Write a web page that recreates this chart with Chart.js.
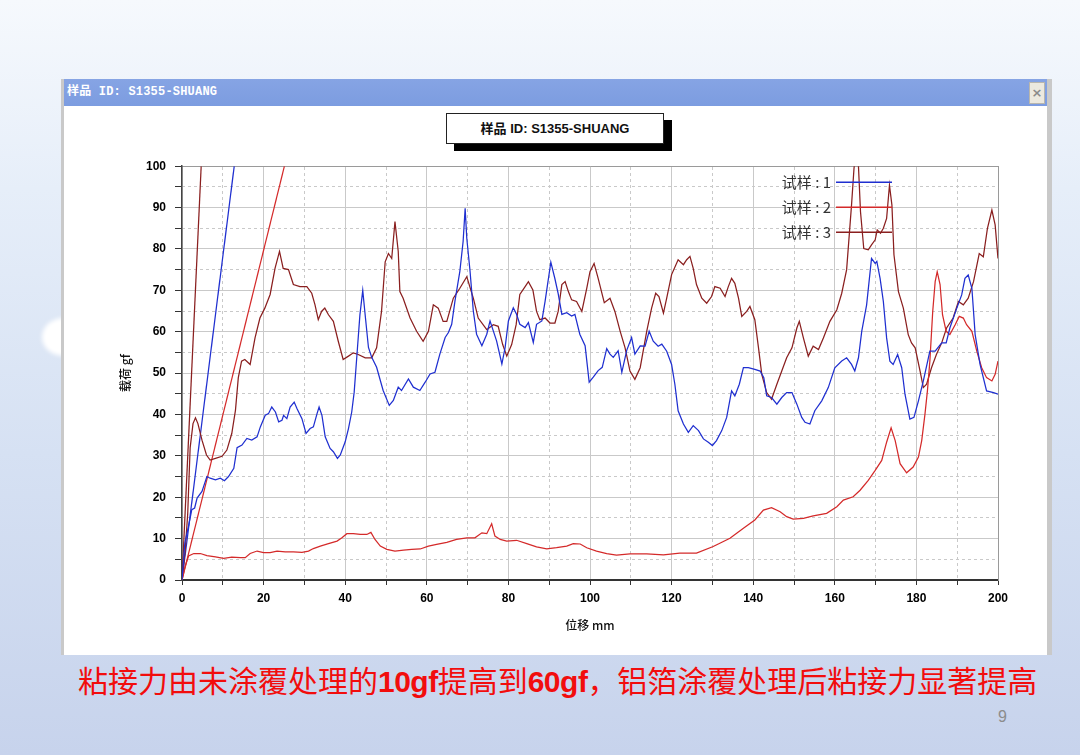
<!DOCTYPE html>
<html>
<head>
<meta charset="utf-8">
<title>样品 ID: S1355-SHUANG</title>
<script src="https://cdn.jsdelivr.net/npm/chart.js@4.4.0/dist/chart.umd.min.js"></script>
<style>
  html, body { margin: 0; padding: 0; }
  body {
    width: 1080px; height: 755px; overflow: hidden; position: relative;
    background: linear-gradient(to bottom, #f6f9fd 0%, #e6eef9 25%, #d6e1f3 60%, #c7d3ec 100%);
    font-family: "Noto Sans CJK SC", sans-serif;
  }
  .blob { position: absolute; left: 42px; top: 318px; width: 44px; height: 38px; border-radius: 50%; background: #fff; filter: blur(2px); }
  #win {
    position: absolute; left: 61px; top: 79px; width: 991px; height: 576px;
    background: #fff; box-sizing: border-box;
    border-left: 3px solid #c9c9c9; border-right: 5px solid #c9c9c9;
  }
  #bar {
    position: absolute; left: 0; top: 0; right: 0; height: 27px;
    background: linear-gradient(to bottom, #86a4e4, #7c9ce0);
    color: #fff; font: bold 12px "Liberation Mono", "Noto Sans CJK SC", monospace;
    line-height: 27px; padding-left: 3px; letter-spacing: 0.2px;
  }
  #close {
    position: absolute; right: 2px; top: 3px; width: 14px; height: 20px;
    background: #ece9df; border: 1px solid #b9b6ad; color: #8a8a8a;
    font: bold 13px "DejaVu Sans", sans-serif; line-height: 19px; text-align: center;
  }
  #boxShadow { position: absolute; left: 454px; top: 120px; width: 218px; height: 31px; background: #000; }
  #box {
    position: absolute; left: 446px; top: 113px; width: 218px; height: 31px; box-sizing: border-box;
    background: #fff; border: 1px solid #222; text-align: center;
    font: bold 13px "Liberation Sans", "Noto Sans CJK SC", sans-serif; line-height: 29px; color: #111;
  }
  #wrap { position: absolute; left: 100px; top: 150px; width: 920px; height: 490px; }
  #note {
    position: absolute; left: 78px; top: 659px; white-space: nowrap;
    color: #f20d0d; font-size: 30px; line-height: 40px; font-family: "Noto Sans CJK SC", sans-serif;
  }
  #note b { font-family: "Liberation Sans", sans-serif; font-weight: bold; letter-spacing: -0.5px; }
  #page { position: absolute; left: 998px; top: 708px; color: #8c8c8c; font: 16px "Liberation Sans", sans-serif; }
</style>
</head>
<body>
<div class="blob"></div>
<div id="win">
  <div id="bar">样品 ID: S1355-SHUANG<div id="close">×</div></div>
</div>
<div id="boxShadow"></div>
<div id="box">样品 ID: S1355-SHUANG</div>
<div id="wrap"><canvas id="myChart"></canvas></div>
<div id="note">粘接力由未涂覆处理的<b>10gf</b>提高到<b>60gf</b>，铝箔涂覆处理后粘接力显著提高</div>
<div id="page">9</div>

<script>
// 试样 1 (蓝)
const s1X = [0, 0.7, 1.6, 2.4, 3.1, 3.7, 4.9, 6.1, 6.9, 8.2, 9.4, 10.4, 11.4, 12.7, 13.5, 14.7, 15.9, 17.1, 18.4, 19.2,
  20.4, 21.2, 22, 22.9, 23.7, 24.5, 24.9, 25.7, 26.5, 27.5, 28.2, 29.4, 30.4, 31.4, 32.2, 33.1, 33.6, 34.3, 35.1, 36.3,
  37.1, 38.1, 38.8, 40, 40.8, 41.6, 42.2, 43, 43.6, 44.3, 45, 45.7, 46.5, 47.7, 49.3, 50.8, 51.8, 53, 53.8, 55.5,
  56.7, 58.3, 59.6, 60.8, 62, 63.2, 64.5, 65.3, 66.1, 66.9, 68.1, 68.9, 69.4, 69.8, 70.6, 71.4, 72.2, 73.5, 74.7, 75.5,
  76.3, 77.1, 78.4, 79.2, 80, 81.2, 82, 82.8, 84.1, 84.9, 86.1, 86.9, 88.2, 89, 90.4, 91.4, 92.2, 93.1, 94.3, 95.5,
  96.3, 97.5, 98.8, 99.8, 100.8, 102, 103, 104.1, 104.9, 105.7, 106.9, 107.8, 109, 110.2, 111, 112.3, 113.5, 114.5, 115.5, 116.7,
  117.6, 118.8, 120, 120.8, 121.6, 122.9, 124.1, 125.3, 126.6, 127.8, 129, 130, 131, 132.3, 133.5, 134.7, 135.5, 136.6, 137.6, 138.8,
  140.4, 141.7, 142.6, 143.3, 144.5, 145.8, 147, 148.2, 149.5, 150.7, 151.9, 152.7, 153.9, 155.1, 156.8, 158.4, 160, 161.7, 162.9, 164.1,
  164.9, 165.8, 166.6, 167.8, 169, 169.9, 170.3, 171.1, 171.9, 172.7, 173.5, 174.3, 175.4, 176.4, 177.2, 178.4, 179.4, 180.5, 181.7, 183.3,
  184.6, 186.2, 187.3, 188.2, 189.9, 191.1, 191.9, 192.7, 193.6, 194.4, 195.6, 197.2, 198.9, 200];
const s1Y = [0, 9, 13, 17, 17.4, 19.8, 21.4, 25, 24.6, 24.2, 24.6, 24, 25, 27, 32, 32.6, 34.2, 33.8, 34.6, 37,
  39.8, 40.2, 41.8, 40.6, 38.2, 38.6, 39.8, 39, 41.8, 43, 41.4, 39, 35.4, 36.6, 37, 40.2, 41.8, 39.8, 34.6, 31.8,
  31, 29.4, 30.2, 33.4, 36.6, 40.6, 45.4, 56, 64, 70, 63, 56.2, 53.8, 51.4, 45.8, 42.2, 43.4, 46.6, 45.8, 48.6,
  46.6, 45.8, 47.8, 49.8, 50.2, 54.6, 58.6, 59.8, 61.8, 67.4, 74.6, 81.8, 89.8, 82.6, 74.6, 65, 59.4, 56.6, 59.4, 62.6,
  60.2, 57.8, 52.2, 56.2, 62.6, 65.8, 64.2, 61.8, 61, 62.2, 57.4, 61.8, 62.6, 67.4, 76.8, 72.8, 69.2, 64.2, 64.6, 63.8,
  64.2, 59.4, 56.6, 47.8, 49, 50.6, 51.4, 55.9, 54.6, 53.8, 55.4, 50.2, 55.5, 58.6, 54.6, 56.6, 56.5, 60.1, 57.7, 56.5,
  57, 55.3, 52.1, 47.3, 40.9, 37.7, 35.7, 37.3, 36.1, 34.1, 33.3, 32.5, 33.7, 36.1, 39.3, 45.7, 44.5, 47.3, 51.3, 51.3,
  50.9, 50.5, 48.9, 44.5, 44.1, 42.5, 44.1, 45.3, 45.3, 42.5, 39.3, 38.1, 37.7, 40.9, 43.3, 46.5, 51.3, 52.9, 53.7, 52.1,
  50.5, 53.7, 60.1, 66.5, 77.7, 76.5, 77, 72.9, 67.3, 58.5, 52.9, 52.1, 54.5, 51.3, 44.9, 38.9, 39.3, 43.3, 48.1, 55.3,
  55.3, 57.3, 57.3, 60.9, 65.7, 68.9, 72.9, 73.7, 70.5, 59.3, 52.1, 45.7, 45.3, 44.9];

// 试样 2 (红)
const s2X = [0, 0.8, 1.6, 2.9, 4.5, 6.1, 8.2, 10.2, 12.2, 14.3, 15.5, 16.7, 18.4, 20, 21.6, 23.3, 25.3, 27.3, 29.4, 31,
  32.2, 33.9, 35.9, 38, 39.2, 40.4, 42, 43.7, 45.3, 46.3, 47.3, 48.6, 50.2, 52.2, 54.3, 56.3, 58.4, 60.4, 62.4, 64.9,
  67.3, 69.8, 71.8, 73.5, 74.7, 75.9, 76.7, 78, 79.6, 82, 84.5, 86.9, 89.4, 91.8, 94.3, 95.9, 97.6, 99.2, 101.6, 104.1,
  106.5, 109.8, 113.9, 118, 122, 126.1, 130.2, 134.3, 137.6, 140.4, 142.5, 144.5, 146.6, 148.2, 149.8, 152.3, 154.7, 158, 160.5, 162.1,
  164.5, 166.2, 168.2, 169.9, 171.5, 172.7, 173.8, 174.8, 176, 177.6, 179.2, 180.5, 181.3, 182.1, 182.7, 183.3, 184, 184.6, 185.1, 185.8,
  186.4, 187.3, 188.2, 189.5, 190.5, 191.5, 192.3, 193.6, 194.8, 196, 197.2, 198.5, 199.3, 200];
const s2Y = [0, 3.4, 5.8, 6.4, 6.4, 5.9, 5.6, 5.2, 5.5, 5.4, 5.4, 6.4, 7, 6.6, 6.6, 7, 6.8, 6.8, 6.7, 7,
  7.6, 8.2, 8.8, 9.4, 10.2, 11.2, 11.2, 11, 11, 11.5, 9.8, 8.2, 7.4, 7, 7.2, 7.4, 7.5, 8.2, 8.6, 9.1,
  9.8, 10.2, 10.2, 11.4, 11.2, 13.6, 10.6, 9.8, 9.4, 9.6, 8.8, 8, 7.5, 7.8, 8.2, 8.8, 8.7, 7.8, 7, 6.4,
  6, 6.3, 6.3, 6.1, 6.5, 6.5, 8.1, 10.1, 12.5, 14.5, 16.9, 17.5, 16.5, 15.3, 14.7, 14.9, 15.5, 16.1, 17.7, 19.3,
  20.1, 21.7, 24.1, 26.5, 28.9, 33.3, 36.8, 33.7, 28.1, 25.9, 27.3, 29.7, 33.7, 40.1, 45.7, 52.9, 64.9, 72.1, 74.5, 71.4,
  64.1, 60.1, 59.3, 61.7, 63.7, 63.3, 61.7, 60.1, 55.3, 51.3, 48.9, 48.1, 49.7, 52.9];

// 试样 3 (棕)
const s3X = [0, 0.8, 1.4, 2, 2.7, 3.3, 3.9, 4.9, 6, 6.9, 8.2, 9.8, 11, 12.2, 13.1, 13.8, 14.6, 15.4, 16.7, 17.9,
  19.1, 20.3, 21.6, 22.8, 23.9, 24.8, 26.1, 27.3, 28.9, 30.6, 31.8, 32.6, 33.4, 34.2, 35, 35.9, 37.1, 38.3, 39.5, 40.8,
  42, 43.2, 44.9, 46.5, 47.7, 48.9, 49.8, 50.6, 51.4, 52.2, 53, 53.4, 54.2, 55.9, 57.5, 59.1, 60.4, 61.6, 62.8, 64,
  64.9, 66.5, 68.1, 69.8, 71.4, 72.6, 74.7, 76.3, 77.5, 78.6, 79.6, 80.8, 81.9, 82.8, 84.1, 84.9, 86, 86.9, 87.7, 89,
  90.2, 91.4, 92.2, 93.1, 93.9, 94.7, 95.5, 96.7, 98, 99.2, 100, 101, 102, 103.5, 104.9, 106.1, 107.4, 108.6, 109.8, 111,
  112.3, 113.9, 115.1, 116.1, 116.9, 118, 118.8, 120, 121.6, 122.9, 123.7, 124.5, 125.3, 126.1, 127.4, 128.6, 129.8, 130.6, 131.9, 133.1,
  133.9, 134.7, 135.5, 136.4, 137.2, 138.4, 139.2, 140.4, 141.3, 142.1, 143.3, 144.5, 145.8, 147, 148.2, 149.5, 150.7, 151.3, 152.3, 153.5,
  154.7, 156, 157.2, 158.8, 160.5, 161.7, 162.9, 164.1, 164.7, 165.2, 165.8, 166.3, 167.1, 168.2, 169, 169.9, 170.4, 171.2, 171.9, 172.7,
  173.4, 174, 174.5, 175.6, 176.8, 178, 178.8, 179.7, 180.9, 181.7, 182.5, 183.7, 184.9, 186.2, 187.4, 189, 190.3, 191.5, 192.7, 194,
  195.4, 196.4, 197.4, 198.5, 199.3, 200];
const s3Y = [0, 7.4, 16, 32, 37.8, 39.2, 37.8, 33.8, 30.2, 29, 29.4, 29.9, 31.4, 35.4, 41, 48.9, 52.9, 53.3, 52.1, 58.5,
  63.3, 65.7, 69, 75.3, 79.4, 75.3, 75, 71.4, 70.9, 70.9, 69.3, 66.5, 62.9, 64.9, 65.7, 64.1, 62.5, 57.7, 53.3, 54.1,
  54.9, 54.5, 53.7, 53.7, 56.1, 64.9, 76.9, 78.9, 77.7, 86.6, 79.4, 69.7, 68.1, 63.3, 60.1, 57.7, 60.1, 66.5, 65.7, 62.5,
  62.5, 68.1, 70.5, 73.3, 68.1, 63.3, 60.5, 61.7, 61.3, 56.9, 54.1, 56.9, 61.7, 69, 70.9, 72.1, 70.1, 64.9, 62.9, 63.3,
  62.1, 62.1, 64.9, 71.4, 72.1, 69.7, 67.7, 67.3, 64.9, 70.5, 74.5, 76.5, 72.9, 67, 68.1, 64.9, 60.1, 56.1, 50.5, 48.5,
  51.3, 60.1, 65.7, 69.3, 68.5, 64.5, 68.1, 73.8, 77.4, 76.2, 77.4, 78.2, 75.3, 71.4, 68.1, 66.9, 68.5, 70.9, 70.5, 68.5,
  70.9, 72.9, 71.7, 68.1, 63.7, 64.9, 66.1, 62.9, 56.1, 49.7, 45.3, 43.7, 47.3, 50.5, 53.7, 56.1, 60.9, 62.5, 58.5, 54.1,
  56.5, 55.7, 58.5, 62.5, 65.3, 69.3, 75, 90.6, 99.4, 104, 100, 89, 80.1, 79.8, 81, 82.2, 84.6, 83.8, 85, 87.4,
  95.4, 90.6, 78.6, 69.7, 65.7, 59.3, 57.3, 56.1, 50.5, 46.5, 47.3, 51.3, 54.5, 57.3, 60.9, 63.3, 67.3, 66.5, 68.1, 72.1,
  78.9, 78.1, 84.9, 89.4, 85.8, 77.7];

// 初始斜率线
const fit1X = [0, 12.8], fit1Y = [0, 100];
const fit2X = [0, 25.1], fit2Y = [0, 100];
const fit3X = [0, 4.7], fit3Y = [0, 100];

const labels = ['试样 : 1', '试样 : 2', '试样 : 3'];
const colors = ['#1f2fd0', '#d42a2a', '#8a1f1f'];

function pts(xs, ys) { return xs.map((x, i) => ({ x: x, y: ys[i] })); }

const ctx1 = document.getElementById('myChart').getContext('2d');

// 图内图例: 文字在左, 线段在右
const sampleLegend = {
  id: 'sampleLegend',
  afterDatasetsDraw(chart) {
    const c = chart.ctx, a = chart.chartArea;
    c.save();
    c.font = '15px "Noto Sans CJK SC", sans-serif';
    c.textAlign = 'right';
    c.textBaseline = 'middle';
    chart.data.datasets.filter(d => d.inLegend).forEach((d, i) => {
      const y = a.top + 16 + i * 25;
      c.fillStyle = '#333';
      c.fillText(d.label, a.right - 167, y);
      c.strokeStyle = d.borderColor;
      c.lineWidth = 1.6;
      c.beginPath();
      c.moveTo(a.right - 162, y);
      c.lineTo(a.right - 106, y);
      c.stroke();
    });
    c.restore();
  }
};

const tickFont = { family: '"Liberation Sans", Arial, sans-serif', size: 12, weight: 'bold' };
const titleFont = { family: '"Noto Sans CJK SC", sans-serif', size: 12, weight: 500 };

const lineDs = (label, data, color, inLegend) => ({
  label: label, data: data, borderColor: color, backgroundColor: color,
  borderWidth: 1.25, pointRadius: 0, tension: 0, inLegend: inLegend,
  xAxisID: 'x', yAxisID: 'y'
});

var graph = new Chart(ctx1, {
  type: 'line',
  data: {
    datasets: [
      lineDs(labels[0], pts(s1X, s1Y), colors[0], true),
      lineDs(labels[1], pts(s2X, s2Y), colors[1], true),
      lineDs(labels[2], pts(s3X, s3Y), colors[2], true),
      lineDs('fit1', pts(fit1X, fit1Y), colors[0], false),
      lineDs('fit2', pts(fit2X, fit2Y), colors[1], false),
      lineDs('fit3', pts(fit3X, fit3Y), colors[2], false)
    ]
  },
  options: {
    responsive: true,
    maintainAspectRatio: false,
    animation: false,
    layout: { padding: 0 },
    plugins: { legend: { display: false }, tooltip: { enabled: false } },
    scales: {
      x: {
        type: 'linear', position: 'bottom', min: 0, max: 200,
        ticks: {
          stepSize: 10, autoSkip: false, maxRotation: 0, padding: 6, color: '#000', font: tickFont,
          callback: v => (v % 20 === 0 ? v : '')
        },
        grid: {
          color: c => (c.tick && c.tick.value % 20 === 0 ? '#c9c9c9' : 'rgba(0,0,0,0)'),
          tickColor: '#333', tickLength: 5, lineWidth: 1
        },
        border: { color: '#333', width: 2 },
        title: { display: true, text: '位移 mm', font: titleFont, color: '#111', padding: { top: 0, bottom: 7 } },
        afterFit: s => { s.height = 60; }
      },
      xDash: {
        type: 'linear', position: 'top', min: 0, max: 200,
        ticks: { stepSize: 10, display: false },
        grid: {
          color: c => (c.tick && c.tick.value % 20 !== 0 ? '#c9c9c9' : 'rgba(0,0,0,0)'),
          drawTicks: false, lineWidth: 1
        },
        border: { color: '#9a9a9a', width: 1, dash: [3, 3] },
        afterFit: s => { s.height = 15; }
      },
      y: {
        type: 'linear', position: 'left', min: 0, max: 100,
        ticks: {
          stepSize: 5, autoSkip: false, padding: 9, color: '#000', font: tickFont,
          callback: v => (v % 10 === 0 ? v : '')
        },
        grid: {
          color: c => (c.tick && c.tick.value % 10 === 0 ? '#c9c9c9' : 'rgba(0,0,0,0)'),
          tickColor: '#333', tickLength: 7, lineWidth: 1
        },
        border: { color: '#444', width: 1.5 },
        title: { display: true, text: '载荷 gf', font: titleFont, color: '#111', padding: { top: 18, bottom: 0 } },
        afterFit: s => { s.width = 82; }
      },
      yDash: {
        type: 'linear', position: 'right', min: 0, max: 100,
        ticks: { stepSize: 5, display: false },
        grid: {
          color: c => (c.tick && c.tick.value % 10 !== 0 ? '#c9c9c9' : 'rgba(0,0,0,0)'),
          drawTicks: false, lineWidth: 1
        },
        border: { color: '#9a9a9a', width: 1, dash: [3, 3] },
        afterFit: s => { s.width = 22; }
      }
    }
  },
  plugins: [sampleLegend]
});
</script>
</body>
</html>
